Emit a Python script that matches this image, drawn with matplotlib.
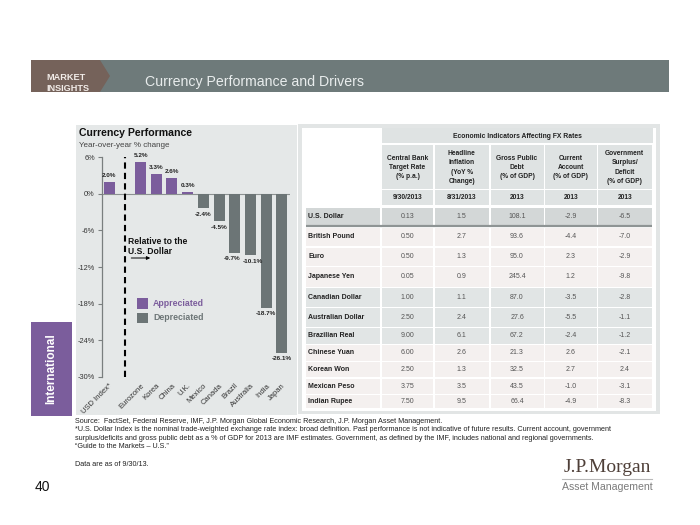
from __future__ import annotations

import matplotlib

matplotlib.use("Agg")
import matplotlib.pyplot as plt
from matplotlib.patches import FancyArrowPatch, Polygon, Rectangle

W, H = 700, 525

# --- chart data -------------------------------------------------------------
countries = ["USD Index*", "Eurozone", "Korea", "China", "U.K.", "Mexico",
             "Canada", "Brazil", "Australia", "India", "Japan"]
yoy_change = [2.0, 5.2, 3.3, 2.6, 0.3, -2.4, -4.5, -9.7, -10.1, -18.7, -26.1]
y_ticks = [6, 0, -6, -12, -18, -24, -30]

# --- table data -------------------------------------------------------------
currencies = ["U.S. Dollar", "British Pound", "Euro", "Japanese Yen", "Canadian Dollar",
              "Australian Dollar", "Brazilian Real", "Chinese Yuan", "Korean Won",
              "Mexican Peso", "Indian Rupee"]
indicator_names = ["Central Bank\nTarget Rate\n(% p.a.)", "Headline\nInflation\n(YoY %\nChange)",
                   "Gross Public\nDebt\n(% of GDP)", "Current\nAccount\n(% of GDP)",
                   "Government\nSurplus/\nDeficit\n(% of GDP)"]
indicator_dates = ["9/30/2013", "8/31/2013", "2013", "2013", "2013"]
target_rate = [0.13, 0.50, 0.50, 0.05, 1.00, 2.50, 9.00, 6.00, 2.50, 3.75, 7.50]
inflation = [1.5, 2.7, 1.3, 0.9, 1.1, 2.4, 6.1, 2.6, 1.3, 3.5, 9.5]
gross_debt = [108.1, 93.6, 95.0, 245.4, 87.0, 27.6, 67.2, 21.3, 32.5, 43.5, 66.4]
current_account = [-2.9, -4.4, 2.3, 1.2, -3.5, -5.5, -2.4, 2.6, 2.7, -1.0, -4.9]
gov_balance = [-6.5, -7.0, -2.9, -9.8, -2.8, -1.1, -1.2, -2.1, 2.4, -3.1, -8.3]

PURPLE = "#7b5d9c"
SLATE = "#6c7576"
PANEL = "#e5e8e8"
HEAD_BG = "#dfe3e3"

plt.rcParams["font.family"] = ["Liberation Sans", "DejaVu Sans"]


def px_box(left: float, top: float, right: float, bottom: float) -> list[float]:
    return [left / W, 1 - bottom / H, (right - left) / W, (bottom - top) / H]


def draw_frame(bg) -> None:
    # header band
    bg.add_patch(Rectangle((31, 60), 638, 32, fc="#6e7a7a", ec="none"))
    brown = Polygon([(31, 60), (100, 60), (110, 76), (100, 92), (31, 92)], closed=True,
                    fc="#75625a", ec="none")
    bg.add_patch(brown)
    for text, y in (("MARKET", 77), ("INSIGHTS", 88.5)):
        t = bg.text(46, y, text, fontsize=6.6, fontweight="bold", color="#f2ece8",
                    va="center", ha="left")
        t.set_clip_path(brown)
    bg.text(145, 82, "Currency Performance and Drivers", fontsize=10.2, color="#e9eded",
            va="center", ha="left")

    # panels
    bg.add_patch(Rectangle((76, 125), 221, 290, fc=PANEL, ec="none"))
    bg.add_patch(Rectangle((298, 124), 362, 290, fc="#e2e5e5", ec="none"))
    bg.add_patch(Rectangle((302, 127.5), 354, 283, fc="white", ec="none"))

    # side tab
    bg.add_patch(Rectangle((31, 322), 41, 94, fc=PURPLE, ec="none"))
    bg.text(51.5, 369, "International", rotation=90, fontsize=8.5, fontweight="bold",
            color="white", ha="center", va="center")

    # footnotes
    notes = [
        "Source:  FactSet, Federal Reserve, IMF, J.P. Morgan Global Economic Research, J.P. Morgan Asset Management.",
        "*U.S. Dollar Index is the nominal trade-weighted exchange rate index: broad definition. Past performance is not indicative of future results. Current account, government",
        "surplus/deficits and gross public debt as a % of GDP for 2013 are IMF estimates. Government, as defined by the IMF, includes national and regional governments.",
        "\u201cGuide to the Markets \u2013 U.S.\u201d",
    ]
    for i, line in enumerate(notes):
        bg.text(75, 421.5 + i * 8.4, line, fontsize=5.2, color="#222", ha="left", va="center")
    bg.text(75, 465, "Data are as of 9/30/13.", fontsize=5.2, color="#222", ha="left", va="center")
    bg.text(42, 487, "40", fontsize=10, color="#111", ha="center", va="center")

    # logo
    bg.text(607, 468, "J.P.Morgan", fontsize=14, color="#4e3f38", ha="center", va="center",
            family=["Liberation Serif", "DejaVu Serif"])
    bg.plot([562, 652], [478.5, 478.5], color="#b9b9b9", lw=0.8)
    bg.text(607, 487, "Asset Management", fontsize=7.6, color="#7b7b7b", ha="center", va="center")


def draw_chart(fig, bg) -> None:
    bg.text(79, 133.5, "Currency Performance", fontsize=7.6, fontweight="bold", color="#111",
            ha="left", va="center")
    bg.text(79, 145.5, "Year-over-year % change", fontsize=5.8, color="#444", ha="left", va="center")

    ax = fig.add_axes(px_box(101.7, 157.3, 290, 376.7))
    ax.patch.set_alpha(0)
    slots = [0] + list(range(2, len(countries) + 1))  # slot 1 holds the divider
    colors = [PURPLE if v >= 0 else SLATE for v in yoy_change]
    bars = ax.bar(slots, yoy_change, width=0.7, color=colors, zorder=2)
    # Brazil / Australia labels sit side by side, nudge them apart a little
    nudge = {"Brazil": -2.2, "Australia": 2.0}
    for bar, value, name in zip(bars, yoy_change, countries):
        up = value >= 0
        ax.annotate(f"{value:.1f}%", (bar.get_x() + bar.get_width() / 2, value),
                    xytext=(nudge.get(name, 0), 3 if up else -2.5), textcoords="offset points",
                    ha="center", va="bottom" if up else "top",
                    fontsize=4.6, fontweight="bold", color="#222")
    ax.axhline(0, color="#8c9191", lw=0.8, zorder=1)
    ax.axvline(1, color="black", lw=1.5, ls=(0, (3, 2)), zorder=3)

    ax.set_xlim(-0.47, 11.51)
    ax.set_ylim(-30, 6)
    ax.set_yticks(y_ticks)
    ax.set_yticklabels([f"{t}%" for t in y_ticks])
    ax.tick_params(axis="y", length=3, width=0.8, color="#7a7f7f", labelsize=5.3,
                   labelcolor="#333", pad=2)
    ax.set_xticks(slots)
    ax.set_xticklabels(countries, rotation=45, ha="right", rotation_mode="anchor",
                       fontsize=5.5, color="#333")
    ax.tick_params(axis="x", length=0, pad=4)
    for side in ("top", "right", "bottom"):
        ax.spines[side].set_visible(False)
    ax.spines["left"].set_color("#7a7f7f")
    ax.spines["left"].set_linewidth(0.9)

    # annotations and legend
    bg.text(128.5, 241, "Relative to the", fontsize=6.2, fontweight="bold", color="#111",
            ha="left", va="center")
    bg.text(128.5, 252, "U.S. Dollar", fontsize=6.2, fontweight="bold", color="#111",
            ha="left", va="center")
    bg.add_patch(FancyArrowPatch((128.5, 258), (153, 258), arrowstyle="-|>", mutation_scale=5,
                                 color="black", lw=0.7))
    for y, color, label in ((298, PURPLE, "Appreciated"), (312.5, SLATE, "Depreciated")):
        bg.add_patch(Rectangle((137, y), 11, 10.5, fc=color, ec="none"))
        bg.text(153, y + 5.3, label, fontsize=6.3, fontweight="bold", color=color,
                ha="left", va="center")


def draw_table(bg) -> None:
    col_edges = [382, 434.5, 490.5, 545, 598, 653]
    row_tops = [207.5, 227.5, 247.5, 267, 288, 308, 328, 345, 362, 378.5, 395]
    table_bottom = 409.5
    row_colors = ["#d3d7d7"] + ["#f4f0ef"] * 3 + ["#e1e5e5"] * 3 + ["#f4f0ef"] * 4
    columns = [
        [f"{v:.2f}" for v in target_rate],
        [f"{v:.1f}" for v in inflation],
        [f"{v:.1f}" for v in gross_debt],
        [f"{v:.1f}" for v in current_account],
        [f"{v:.1f}" for v in gov_balance],
    ]

    bg.add_patch(Rectangle((col_edges[0], 128), col_edges[-1] - col_edges[0], 15,
                           fc=HEAD_BG, ec="none"))
    bg.text((col_edges[0] + col_edges[-1]) / 2, 136, "Economic Indicators Affecting FX Rates",
            fontsize=4.9, fontweight="bold", color="#222", ha="center", va="center")
    for i, (name, date) in enumerate(zip(indicator_names, indicator_dates)):
        x0, x1 = col_edges[i], col_edges[i + 1] - 1.5
        bg.add_patch(Rectangle((x0, 145), x1 - x0, 43.5, fc=HEAD_BG, ec="none"))
        bg.add_patch(Rectangle((x0, 190), x1 - x0, 15, fc=HEAD_BG, ec="none"))
        bg.text((x0 + x1) / 2, 167.5, name, fontsize=4.8, fontweight="bold", color="#222",
                ha="center", va="center", linespacing=1.45)
        bg.text((x0 + x1) / 2, 197.8, date, fontsize=4.8, fontweight="bold", color="#222",
                ha="center", va="center")

    bottoms = row_tops[1:] + [table_bottom]
    for r, name in enumerate(currencies):
        top, bottom = row_tops[r], bottoms[r] - 1.2
        mid = (top + bottom) / 2
        bg.add_patch(Rectangle((306, top), 74, bottom - top, fc=row_colors[r], ec="none"))
        bg.text(308.5, mid, name, fontsize=5, fontweight="bold", color="#222",
                ha="left", va="center")
        for c, values in enumerate(columns):
            x0, x1 = col_edges[c], col_edges[c + 1] - 1.5
            bg.add_patch(Rectangle((x0, top), x1 - x0, bottom - top, fc=row_colors[r], ec="none"))
            bg.text((x0 + x1) / 2, mid, values[r], fontsize=5, color="#555",
                    ha="center", va="center")
    # heavier rule under the U.S. row
    bg.plot([306, col_edges[-1] - 1.5], [225.5, 225.5], color="#8e9494", lw=1.6,
            solid_capstyle="butt")


def main() -> None:
    fig = plt.figure(figsize=(W / 100, H / 100), dpi=100)
    bg = fig.add_axes([0, 0, 1, 1])
    bg.set_xlim(0, W)
    bg.set_ylim(H, 0)
    bg.axis("off")

    draw_frame(bg)
    draw_table(bg)
    draw_chart(fig, bg)

    fig.savefig("out.png", dpi=100, facecolor="white")
    plt.close(fig)


if __name__ == "__main__":
    main()
